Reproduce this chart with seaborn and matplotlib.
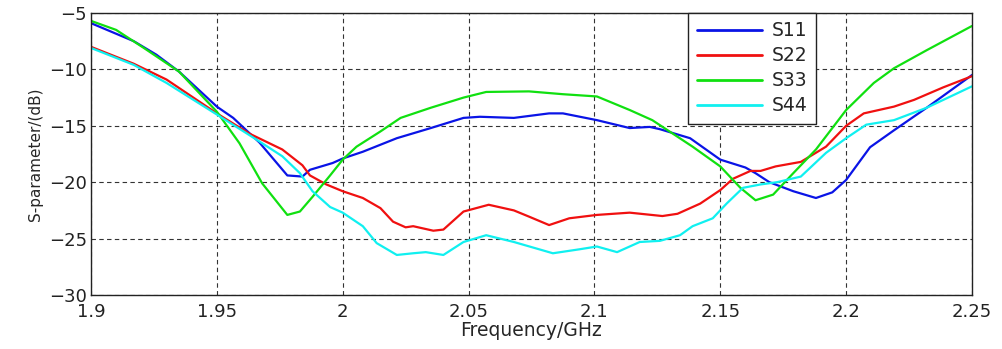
import seaborn as sns
import matplotlib.pyplot as plt
import pandas as pd

# values (frequency in GHz, S-parameter in dB)
s11_freq = [1.900, 1.917, 1.926, 1.935, 1.950, 1.9565, 1.967, 1.978, 1.984, 1.987,
            1.996, 2.000, 2.008, 2.0215, 2.035, 2.048, 2.0545, 2.068, 2.082, 2.0875,
            2.101, 2.114, 2.122, 2.126, 2.138, 2.150, 2.160, 2.164, 2.1695, 2.179,
            2.188, 2.1945, 2.200, 2.2095, 2.219, 2.232, 2.250]
s11_db = [-5.9, -7.5, -8.7, -10.2, -13.3, -14.3, -16.5, -19.4, -19.5, -18.9,
          -18.3, -17.9, -17.3, -16.1, -15.2, -14.3, -14.2, -14.3, -13.9, -13.9,
          -14.5, -15.2, -15.1, -15.3, -16.1, -18.0, -18.7, -19.2, -20.0, -20.8,
          -21.4, -20.9, -19.8, -16.9, -15.4, -13.4, -10.5]

s22_freq = [1.900, 1.917, 1.930, 1.950, 1.963, 1.976, 1.984, 1.987, 1.9935, 2.000,
            2.008, 2.015, 2.020, 2.025, 2.028, 2.036, 2.040, 2.048, 2.058, 2.068,
            2.074, 2.082, 2.090, 2.101, 2.114, 2.127, 2.133, 2.142, 2.150, 2.155,
            2.162, 2.166, 2.172, 2.182, 2.192, 2.200, 2.207, 2.219, 2.227, 2.2385,
            2.250]
s22_db = [-8.0, -9.5, -10.9, -13.9, -15.7, -17.1, -18.5, -19.4, -20.2, -20.8,
          -21.4, -22.3, -23.5, -24.0, -23.9, -24.3, -24.2, -22.6, -22.0, -22.5,
          -23.05, -23.8, -23.2, -22.9, -22.7, -23.0, -22.8, -21.9, -20.7, -19.7,
          -19.0, -19.0, -18.6, -18.2, -16.85, -15.0, -13.9, -13.3, -12.7, -11.6,
          -10.6]

s33_freq = [1.900, 1.910, 1.921, 1.935, 1.950, 1.959, 1.968, 1.978, 1.983, 1.988,
            1.995, 2.000, 2.0055, 2.015, 2.023, 2.035, 2.048, 2.057, 2.074, 2.0875,
            2.101, 2.114, 2.123, 2.139, 2.150, 2.158, 2.164, 2.171, 2.179, 2.188,
            2.200, 2.211, 2.219, 2.232, 2.250]
s33_db = [-5.7, -6.5, -8.1, -10.2, -13.75, -16.55, -20.1, -22.9, -22.6, -21.3,
          -19.4, -18.0, -16.85, -15.5, -14.3, -13.4, -12.5, -12.0, -11.95, -12.2,
          -12.4, -13.6, -14.5, -16.85, -18.6, -20.5, -21.6, -21.1, -19.2, -17.1,
          -13.6, -11.2, -9.9, -8.3, -6.15]

s44_freq = [1.900, 1.917, 1.930, 1.950, 1.967, 1.976, 1.983, 1.988, 1.995, 2.000,
            2.008, 2.0135, 2.0215, 2.028, 2.033, 2.040, 2.048, 2.057, 2.068, 2.0835,
            2.094, 2.101, 2.109, 2.118, 2.126, 2.134, 2.139, 2.147, 2.1525, 2.159,
            2.166, 2.1725, 2.182, 2.192, 2.200, 2.208, 2.219, 2.232, 2.250]
s44_db = [-8.1, -9.6, -11.2, -14.0, -16.4, -17.7, -19.2, -20.8, -22.2, -22.7,
          -23.9, -25.4, -26.45, -26.3, -26.2, -26.45, -25.3, -24.7, -25.3, -26.3,
          -25.95, -25.7, -26.2, -25.3, -25.2, -24.7, -23.9, -23.2, -21.9, -20.5,
          -20.2, -20.0, -19.5, -17.4, -16.1, -14.9, -14.5, -13.4, -11.5]

series = {"S11": (s11_freq, s11_db), "S22": (s22_freq, s22_db),
          "S33": (s33_freq, s33_db), "S44": (s44_freq, s44_db)}
df = pd.concat([pd.DataFrame({"freq": f, "db": d, "port": name})
                for name, (f, d) in series.items()], ignore_index=True)

sns.set_style("white")
plt.rcParams["font.family"] = ["DejaVu Sans"]

fig = plt.figure(figsize=(10.03, 3.49), dpi=100)
ax = fig.add_axes([0.0907, 0.1547, 0.8784, 0.8081])

palette = {"S11": "#0a14e6", "S22": "#f01010", "S33": "#10e010", "S44": "#10f0f0"}
sns.lineplot(data=df, x="freq", y="db", hue="port", palette=palette,
             linewidth=1.6, ax=ax, sort=True, estimator=None)

ax.set_xlim(1.9, 2.25)
ax.set_ylim(-30, -5)
ax.set_xticks([1.9, 1.95, 2.0, 2.05, 2.1, 2.15, 2.2, 2.25])
ax.set_xticklabels(["1.9", "1.95", "2", "2.05", "2.1", "2.15", "2.2", "2.25"])
ax.set_yticks([-30, -25, -20, -15, -10, -5])
ax.tick_params(labelsize=13, direction="in", length=4, colors="#222222")
ax.tick_params(axis="x", pad=6)
ax.tick_params(axis="y", pad=3)
ax.grid(True, color="#333333", linestyle=(0, (4, 3)), linewidth=0.8)
for sp in ax.spines.values():
    sp.set_color("#222222")
    sp.set_linewidth(1.0)

ax.set_xlabel("Frequency/GHz", fontsize=13.5, labelpad=0)
ax.set_ylabel("S-parameter/(dB)", fontsize=11, labelpad=4)

leg = ax.legend(loc="upper left", bbox_to_anchor=(0.678, 1.0), borderaxespad=0,
                fontsize=13.5, handlelength=3.5, handletextpad=0.5,
                labelspacing=0.32, borderpad=0.45, fancybox=False,
                framealpha=1, edgecolor="#222222", title=None)
leg.get_frame().set_linewidth(1.0)
for line in leg.get_lines():
    line.set_linewidth(2.0)

fig.savefig("out.png", dpi=100)
